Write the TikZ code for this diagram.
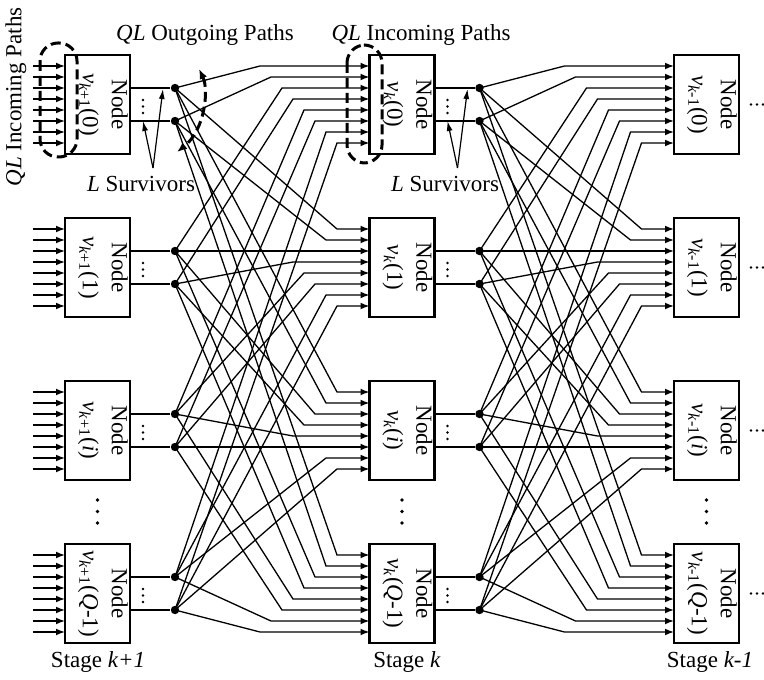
\documentclass[tikz,border=0pt]{standalone}
\usepackage{fontspec}
\setmainfont{Liberation Serif}
\usetikzlibrary{arrows.meta}
\newcommand{\nulab}[2]{\textit{ν}\textsubscript{#1}(#2)}

\begin{document}
\begin{tikzpicture}[x=0.5pt,y=-0.5pt,
    font=\fontsize{11.5}{14.5}\selectfont,
    nodebox/.style={draw,line width=1.1pt,minimum width=32.5pt,minimum height=49.5pt,inner sep=0pt},
    nodetext/.style={rotate=-90,align=center,inner sep=0pt},
    survdot/.style={circle,fill,inner sep=0pt,minimum size=4.2pt},
    wire/.style={line width=0.65pt},
    inarrow/.style={wire,-{Latex[length=4.5pt,width=3.4pt]}},
    pointer/.style={line width=0.6pt,-{Latex[length=5pt,width=3pt]}},
    dashgroup/.style={dash pattern=on 5pt off 2.5pt,line width=1.5pt}
]
\useasboundingbox (0,0) rectangle (764,679);

% nodes of the three stages
\foreach \s/\lab in {0/{\textit{k}+1},1/{\textit{k}},2/{\textit{k}-1}} {
  \foreach \r/\idx in {0/0,1/1,2/{\textit{i}},3/{\textit{Q}-1}} {
    \node[nodebox] (b-\s-\r) at ({97.5+304.5*\s},{104.5+163*\r}) {};
    \node[nodetext] (t-\s-\r) at ({103+304.5*\s},{104.5+163*\r}) {Node\\\nulab{\lab}{\idx}};
    \foreach \j in {0,...,7}
      \coordinate (in-\s-\r-\j) at ({65+304.5*\s},{66+163*\r+11*\j});
  }
}

% survivors
\foreach \s in {0,1} {
  \foreach \j in {0,...,7} {
    \pgfmathsetmacro\yd{88+163*int(\j/2)+33*mod(\j,2)}
    \coordinate (o-\s-\j) at ({130+304.5*\s},\yd);
    \node[survdot] (d-\s-\j) at ({175+304.5*\s},\yd) {};
    \draw[wire] (o-\s-\j) -- (d-\s-\j);
  }
}

% paths from one stage to the next
\foreach \s/\n in {0/1,1/2} {
  \foreach \r in {0,...,3} {
    \foreach \j in {0,...,7} {
      \pgfmathsetmacro\yd{88+163*int(\j/2)+33*mod(\j,2)}
      \pgfmathsetmacro\yi{66+163*\r+11*\j}
      \pgfmathsetmacro\bx{175+304.5*\s+(\yd<\yi ? 162-11*\j : 85+11*\j)}
      \draw[inarrow] (d-\s-\j.center) -- (\bx,\yi) -- (in-\n-\r-\j);
    }
  }
}

% incoming paths of stage k+1
\foreach \r in {0,...,3}
  \foreach \j in {0,...,7} {
    \coordinate (src-\r-\j) at (33,{66+163*\r+11*\j});
    \draw[inarrow] (src-\r-\j) -- (in-0-\r-\j);
  }

%dots
\foreach \s in {0,1}
  \foreach \r in {0,...,3}
    \foreach \k in {0,1,2}
      \fill ({143+304.5*\s},{100+163*\r+6.5*\k}) circle (0.7pt);
\foreach \s in {0,1,2}
  \foreach \k in {0,1,2}
    \fill ({97.5+304.5*\s},{500+11.5*\k}) circle (0.9pt);
\foreach \r in {0,...,3}
  \foreach \k in {0,1,2}
    \fill ({751+6*\k},{104.5+163*\r}) circle (0.7pt);

% groups
\draw[dashgroup,rounded corners=9pt] (40,43) rectangle (77,157);
\draw[dashgroup,rounded corners=9pt] (347,45) rectangle (382,163);
\draw[dashgroup,{Latex[length=5pt,width=4pt]}-{Latex[length=5pt,width=4pt]}] (199,69) .. controls (209,90) and (205,130) .. (177,152);

%labels
\node (out-lab) at (205,35) {\textit{QL} Outgoing Paths};
\node (in-lab) at (421,35) {\textit{QL} Incoming Paths};
\node[rotate=90] (in-lab0) at (16,97) {\textit{QL} Incoming Paths};
\node (surv-lab0) at (141,184) {\textit{L} Survivors};
\node (surv-lab1) at (445,184) {\textit{L} Survivors};
\node (st-0) at (98,662) {Stage \textit{k+1}};
\node (st-1) at (407,662) {Stage \textit{k}};
\node (st-2) at (710,662) {Stage \textit{k-1}};

% pointers to the survivors
\foreach \s in {0,1} {
  \coordinate (sv-\s) at ({153+304.5*\s},168);
  \coordinate (sv-\s-a) at ({143+304.5*\s},121);
  \coordinate (sv-\s-b) at ({163+304.5*\s},89);
  \draw[pointer] (sv-\s) -- (sv-\s-a);
  \draw[pointer] (sv-\s) -- (sv-\s-b);
}
\end{tikzpicture}
\end{document}
